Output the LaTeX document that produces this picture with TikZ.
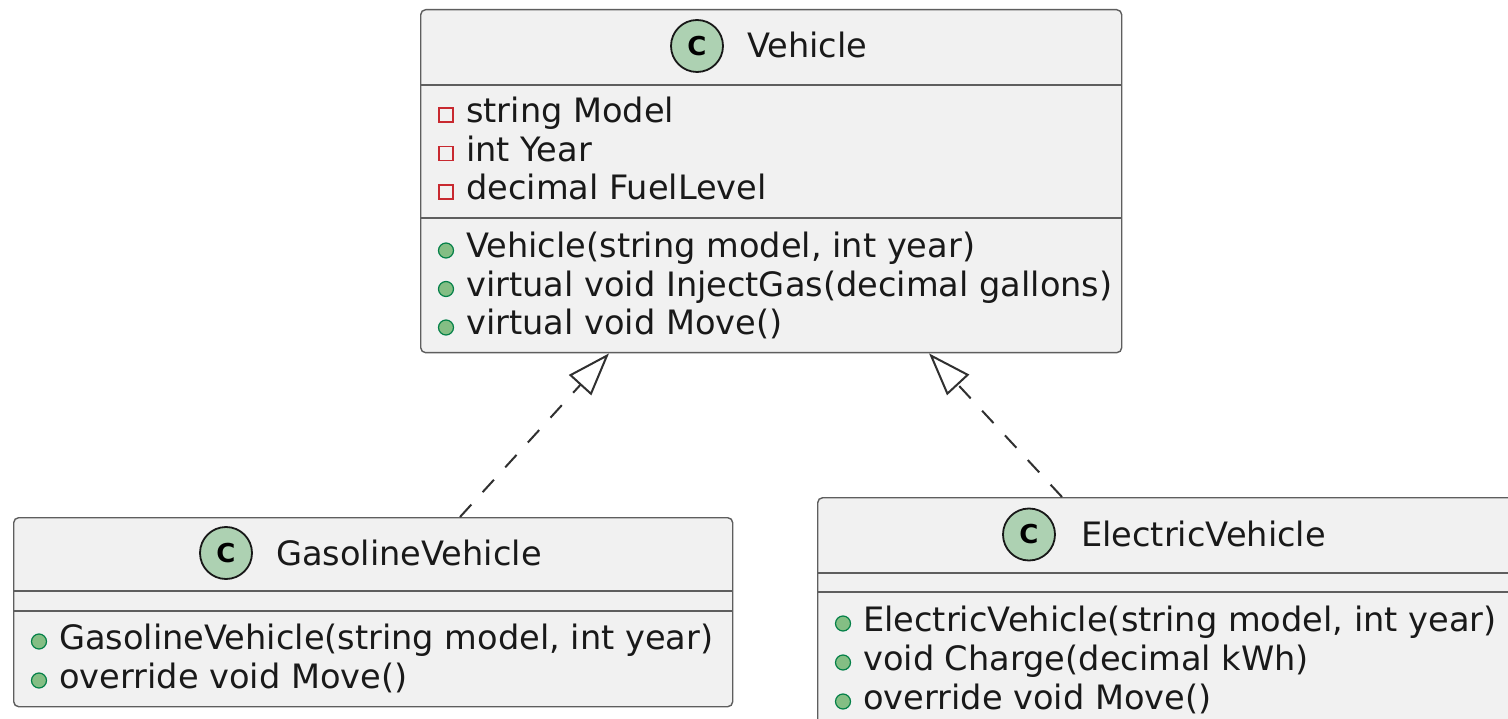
\documentclass[tikz,border=0pt]{standalone}
\usepackage{fontspec}
\setmainfont{DejaVu Sans}
\usetikzlibrary{arrows.meta}
\definecolor{boxfill}{HTML}{F1F1F1}
\definecolor{boxline}{HTML}{5E5E5E}
\definecolor{spotline}{HTML}{181818}
\definecolor{spotfill}{HTML}{ADD1B2}
\definecolor{pubfill}{HTML}{84BE84}
\definecolor{publine}{HTML}{038048}
\definecolor{privline}{HTML}{C82930}
\definecolor{relline}{HTML}{303030}
\begin{document}
\begin{tikzpicture}[x=1pt,y=-1pt,
  classbox/.style={draw=boxline, fill=boxfill, line width=1.4pt, rounded corners=5pt, rectangle, inner sep=0pt, anchor=north west},
  sepline/.style={draw=boxline, line width=1.4pt},
  spot/.style={circle, draw=spotline, fill=spotfill, line width=1.8pt, minimum size=52pt, inner sep=0pt, font=\fontsize{26}{26}\selectfont\bfseries},
  lbl/.style={anchor=base west, inner sep=0pt, text=black!90, font=\fontsize{33.6}{40}\selectfont},
  pubdot/.style={circle, draw=publine, fill=pubfill, line width=1.2pt, minimum size=15pt, inner sep=0pt},
  privsq/.style={rectangle, draw=privline, line width=1.5pt, minimum size=14pt, inner sep=0pt},
  realize/.style={draw=relline, line width=2pt, dash pattern=on 16.8pt off 16.8pt, -{Triangle[open, length=43pt, width=30pt, line width=2pt]}}
]
\useasboundingbox (0,0) rectangle (1508,719);
\clip (0,0) rectangle (1508,719);
\fill[white] (0,0) rectangle (1508,719);

% ---------- Vehicle ----------
\node[classbox, minimum width=701pt, minimum height=343pt] (veh) at (420,9) {};
\draw[sepline] (veh.west |- 0,85) -- (veh.east |- 0,85);
\draw[sepline] (veh.west |- 0,218) -- (veh.east |- 0,218);
\node[spot] (vehspot) at (697,46) {C};
\node[lbl] (vehname) at (747,57.5) {Vehicle};
\node[privsq] (vehf1) at (446,115) {};
\node[lbl] (vehf1t) at (466,123) {string Model};
\node[privsq] (vehf2) at (446,153.5) {};
\node[lbl] (vehf2t) at (466,161.5) {int Year};
\node[privsq] (vehf3) at (446,192) {};
\node[lbl] (vehf3t) at (466,200) {decimal FuelLevel};
\node[pubdot] (vehm1) at (446,250.5) {};
\node[lbl] (vehm1t) at (466,258) {Vehicle(string model, int year)};
\node[pubdot] (vehm2) at (446,289) {};
\node[lbl] (vehm2t) at (466,296.5) {virtual void InjectGas(decimal gallons)};
\node[pubdot] (vehm3) at (446,327.5) {};
\node[lbl] (vehm3t) at (466,335) {virtual void Move()};

% ---------- GasolineVehicle ----------
\node[classbox, minimum width=719pt, minimum height=189pt] (gas) at (13,517) {};
\draw[sepline] (gas.west |- 0,591) -- (gas.east |- 0,591);
\draw[sepline] (gas.west |- 0,611) -- (gas.east |- 0,611);
\node[spot] (gasspot) at (226,553) {C};
\node[lbl] (gasname) at (276,565) {GasolineVehicle};
\node[pubdot] (gasm1) at (39,641.5) {};
\node[lbl] (gasm1t) at (59,649) {GasolineVehicle(string model, int year)};
\node[pubdot] (gasm2) at (39,680.5) {};
\node[lbl] (gasm2t) at (59,688) {override void Move()};

% ---------- ElectricVehicle ----------
\node[classbox, minimum width=700pt, minimum height=240pt] (ev) at (817,497) {};
\draw[sepline] (ev.west |- 0,573) -- (ev.east |- 0,573);
\draw[sepline] (ev.west |- 0,592) -- (ev.east |- 0,592);
\node[spot] (evspot) at (1029,534.5) {C};
\node[lbl] (evname) at (1081,546) {ElectricVehicle};
\node[pubdot] (evm1) at (843,623.5) {};
\node[lbl] (evm1t) at (863,631) {ElectricVehicle(string model, int year)};
\node[pubdot] (evm2) at (843,662.5) {};
\node[lbl] (evm2t) at (863,670) {void Charge(decimal kWh)};
\node[pubdot] (evm3) at (843,701.5) {};
\node[lbl] (evm3t) at (863,709) {override void Move()};

% ---------- realizations ----------
\draw[realize] ([xshift=447pt]gas.north west) -- ([xshift=189pt]veh.south west);
\draw[realize] ([xshift=245pt]ev.north west) -- ([xshift=509pt]veh.south west);
\end{tikzpicture}
\end{document}
